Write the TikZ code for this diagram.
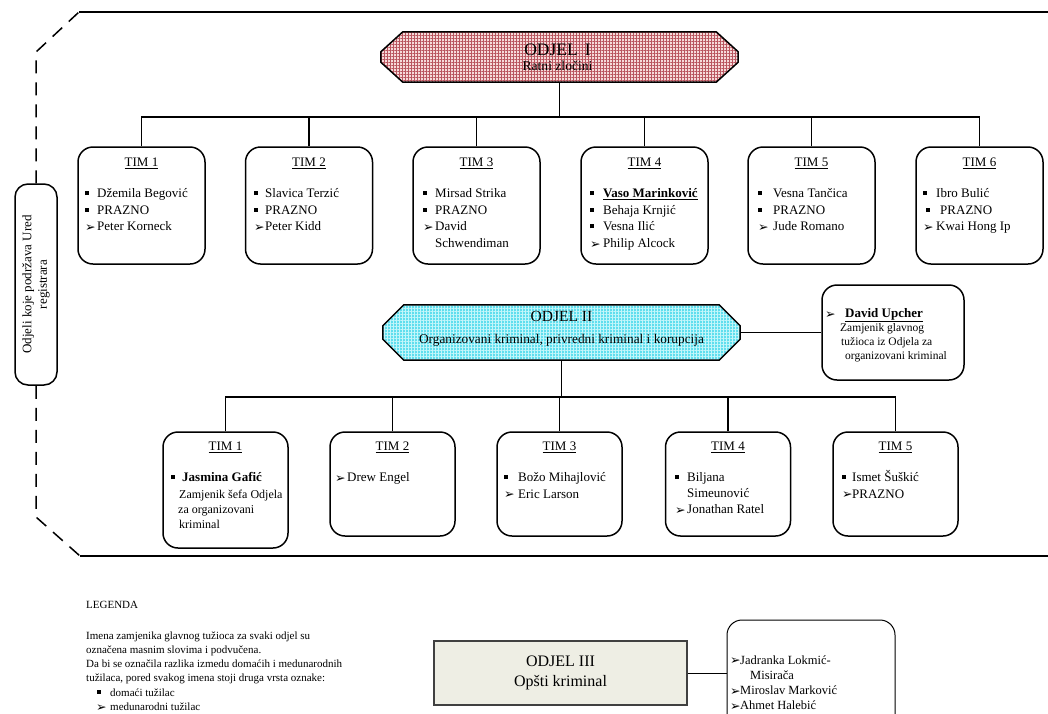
\documentclass[tikz,border=0pt]{standalone}
\usepackage{fontspec}
\setmainfont{Liberation Serif}
\newfontfamily\dejavu{DejaVu Sans}
\usetikzlibrary{patterns.meta,backgrounds}
\newcommand{\setfs}[2]{\fontsize{#1}{#2}\selectfont}
\newcommand{\sqb}[1][11pt]{\makebox[#1][l]{\raisebox{2.5pt}{\rule{4pt}{4pt}}}}
\newcommand{\arb}[1][11pt]{\makebox[#1][l]{\raisebox{-0.6pt}{\dejavu\fontsize{12.5}{12.5}\selectfont ➢}}}
\newcommand{\lns}[1]{\begin{tabular}[t]{@{}l@{}}#1\end{tabular}}
\newcommand{\chamf}[4]{%
  \path[#4] ([xshift=#2]#1.north west) -- ([xshift=-#2]#1.north east) -- ([yshift=-#3]#1.north east) -- ([yshift=#3]#1.south east) -- ([xshift=-#2]#1.south east) -- ([xshift=#2]#1.south west) -- ([yshift=#3]#1.south west) -- ([yshift=-#3]#1.north west) -- cycle;}
\definecolor{pinkbg}{RGB}{246,218,218}
\definecolor{pinkln}{RGB}{185,85,95}
\definecolor{cyanbg}{RGB}{95,222,238}
\definecolor{cyanln}{RGB}{195,246,250}
\definecolor{beige}{RGB}{238,238,228}
\begin{document}
\begin{tikzpicture}[x=1pt,y=-1pt,
  frm/.style={line width=1.7pt},
  frmd/.style={line width=1.5pt, dash pattern=on 13pt off 9pt},
  conn/.style={line width=1.3pt},
  tbox/.style={draw, line width=1.5pt, rounded corners=15pt, minimum width=127pt, minimum height=117pt, inner sep=0pt},
  tbox2/.style={tbox, minimum width=125pt, minimum height=104pt},
  ttl/.style={anchor=base, font=\setfs{13}{16.7}, inner sep=0pt},
  lst/.style={anchor=base west, font=\setfs{13}{16.7}, inner sep=0pt},
  odjbox/.style={draw=none, inner sep=0pt, minimum width=357pt}
]
\useasboundingbox (0,0) rectangle (1048,713);
\clip (0,0) rectangle (1048,713);

% side label and frame
\node[draw, line width=1.5pt, rounded corners=13pt, minimum width=201pt, minimum height=42pt, inner sep=0pt, rotate=90, align=center, font=\setfs{13}{15.5}] (lab) at (36,284.5) {Odjeli koje podržava Ured\\registrara};
\coordinate (fa) at (36,52);
\coordinate (fb) at (79,12);
\coordinate (fc) at (1060,12);
\coordinate (fd) at (36,517);
\coordinate (fe) at (80,556);
\coordinate (ff) at (1060,556);
\draw[frmd] (lab.east) -- (fa) -- (fb);
\draw[frm] (fb) -- (fc);
\draw[frmd] (lab.west) -- (fd) -- (fe);
\draw[frm] (fe) -- (ff);

% ODJEL I
\node[odjbox, minimum height=50pt] (o1) at (559.5,57) {};
\chamf{o1}{22pt}{20pt}{draw, line width=1.5pt, preaction={fill=pinkbg}, preaction={pattern={Hatch[angle=0,distance=3pt,line width=0.5pt]}, pattern color=pinkln}}
\node[anchor=base, inner sep=0pt, font=\setfs{17.5}{20}] (o1t) at (557.5,55) {ODJEL\hspace{7pt}I};
\node[anchor=base, inner sep=0pt, font=\setfs{13.6}{16}] (o1s) at (557.5,70.7) {Ratni zločini};

% row 1 teams
\node[tbox] (t11) at (141.5,205.5) {};
\node[tbox] (t12) at (309,205.5) {};
\node[tbox] (t13) at (476.5,205.5) {};
\node[tbox] (t14) at (644.5,205.5) {};
\node[tbox] (t15) at (811.5,205.5) {};
\node[tbox] (t16) at (979.5,205.5) {};
\coordinate (bus1) at (559.5,117);
\draw[conn] (o1.south) -- (bus1);
\draw[conn] (t11.north) -- (t11.north |- bus1) -- (t16.north |- bus1) -- (t16.north);
\foreach \k in {t12,t13,t14,t15} \draw[conn] (\k.north) -- (\k.north |- bus1);

\node[ttl] (h11) at (141.5,166.5) {\underline{TIM 1}};
\node[ttl] (h12) at (309,166.5) {\underline{TIM 2}};
\node[ttl] (h13) at (476.5,166.5) {\underline{TIM 3}};
\node[ttl] (h14) at (644.5,166.5) {\underline{TIM 4}};
\node[ttl] (h15) at (811.5,166.5) {\underline{TIM 5}};
\node[ttl] (h16) at (979.5,166.5) {\underline{TIM 6}};

\node[lst] (l11) at (85,197.5) {\lns{\sqb[12pt]Džemila Begović\\\sqb[12pt]PRAZNO\\\arb[12pt]Peter Korneck}};
\node[lst] (l12) at (254,197.5) {\lns{\sqb[11pt]Slavica Terzić\\\sqb[11pt]PRAZNO\\\arb[11pt]Peter Kidd}};
\node[lst] (l13) at (423,197.5) {\lns{\sqb[12pt]Mirsad Strika\\\sqb[12pt]PRAZNO\\\arb[12pt]David\\\hspace*{12pt}Schwendiman}};
\node[lst] (l14) at (590,197.5) {\lns{\sqb[13pt]\underline{\textbf{Vaso Marinković}}\\\sqb[13pt]Behaja Krnjić\\\sqb[13pt]Vesna Ilić\\\arb[13pt]Philip Alcock}};
\node[lst] (l15) at (758,197.5) {\lns{\sqb[15pt]Vesna Tančica\\\sqb[15pt]PRAZNO\\\arb[15pt]Jude Romano}};
\node[lst] (l16) at (923,197.5) {\lns{\sqb[13pt]Ibro Bulić\\\hspace*{3pt}\sqb[14pt]PRAZNO\\\arb[13pt]Kwai Hong Ip}};

% ODJEL II
\node[odjbox, minimum height=55pt] (o2) at (561.5,332.5) {};
\chamf{o2}{21pt}{21pt}{draw, line width=1.5pt, preaction={fill=cyanbg}, preaction={pattern={Hatch[angle=0,distance=3pt,line width=0.7pt]}, pattern color=cyanln}}
\node[anchor=base, inner sep=0pt, font=\setfs{15.5}{18}] (o2t) at (561.5,321.5) {ODJEL II};
\node[anchor=base, inner sep=0pt, font=\setfs{13.3}{16}] (o2s) at (561.5,343.5) {Organizovani kriminal, privredni kriminal i korupcija};

\node[draw, line width=1.5pt, rounded corners=15pt, minimum width=142pt, minimum height=95pt, inner sep=0pt] (dav) at (893,332.5) {};
\draw[conn] (o2.east) -- (dav.west);
\node[lst, font=\setfs{11.5}{13.8}] (davl) at (825,317.5) {\lns{\arb[20pt]\underline{\setfs{13}{14}\textbf{David Upcher}}\\[0.5pt]\hspace*{15pt}Zamjenik glavnog\\\hspace*{16pt}tužioca iz Odjela za\\\hspace*{20pt}organizovani kriminal}};

% row 2 teams
\node[tbox2, minimum height=116pt] (t21) at (225.5,490) {};
\node[tbox2] (t22) at (392.5,484) {};
\node[tbox2] (t23) at (559.5,484) {};
\node[tbox2] (t24) at (728,484) {};
\node[tbox2] (t25) at (895.5,484) {};
\coordinate (bus2) at (561.5,397);
\draw[conn] (o2.south) -- (bus2);
\draw[conn] (t21.north) -- (t21.north |- bus2) -- (t25.north |- bus2) -- (t25.north);
\foreach \k in {t22,t23,t24} \draw[conn] (\k.north) -- (\k.north |- bus2);

\node[ttl] (h21) at (225.5,450.5) {\underline{TIM 1}};
\node[ttl] (h22) at (392.5,450.5) {\underline{TIM 2}};
\node[ttl] (h23) at (559.5,450.5) {\underline{TIM 3}};
\node[ttl] (h24) at (728,450.5) {\underline{TIM 4}};
\node[ttl] (h25) at (895.5,450.5) {\underline{TIM 5}};

\node[lst, font=\setfs{12}{15}] (l21) at (171,481.5) {\lns{\sqb[11pt]\setfs{13}{15}\textbf{Jasmina Gafić}\\[1.5pt]\hspace*{8pt}Zamjenik šefa Odjela\\\hspace*{7pt}za organizovani\\\hspace*{8pt}kriminal}};
\node[lst] (l22) at (335,481.5) {\lns{\arb[12pt]Drew Engel}};
\node[lst] (l23) at (504,481.5) {\lns{\sqb[14pt]Božo Mihajlović\\\arb[14pt]Eric Larson}};
\node[lst, font=\setfs{13}{16}] (l24) at (675,481.5) {\lns{\sqb[12pt]Biljana\\\hspace*{12pt}Simeunović\\\arb[12pt]Jonathan Ratel}};
\node[lst] (l25) at (842,481.5) {\lns{\sqb[10pt]Ismet Šuškić\\\arb[10pt]PRAZNO}};

% legend
\node[lst, font=\setfs{11}{14.3}] (leg) at (86,608) {\lns{LEGENDA\\[16.7pt]Imena zamjenika glavnog tužioca za svaki odjel su\\označena masnim slovima i podvučena.\\Da bi se označila razlika izmedu domaćih i medunarodnih\\tužilaca, pored svakog imena stoji druga vrsta oznake:\\\hspace*{11pt}\sqb[13pt]domaći tužilac\\\hspace*{10pt}\arb[14pt]medunarodni tužilac}};

% ODJEL III
\node[draw=black!75, line width=1.2pt, fill=beige, minimum width=253pt, minimum height=64pt, inner sep=0pt, align=center, font=\setfs{16}{20}] (o3) at (560.5,673) {ODJEL III\\Opšti kriminal};
\node[draw, line width=1pt, rounded corners=15pt, minimum width=168pt, minimum height=115pt, inner sep=0pt] (mem) at (811,677.5) {};
\draw[conn, line width=1pt] (o3.east) -- (o3.east -| mem.west);
\node[lst, font=\setfs{12.5}{15.3}] (meml) at (730,664) {\lns{\arb[10pt]Jadranka Lokmić-\\\hspace*{20pt}Misirača\\\arb[10pt]Miroslav Marković\\\arb[10pt]Ahmet Halebić}};
\end{tikzpicture}
\end{document}
